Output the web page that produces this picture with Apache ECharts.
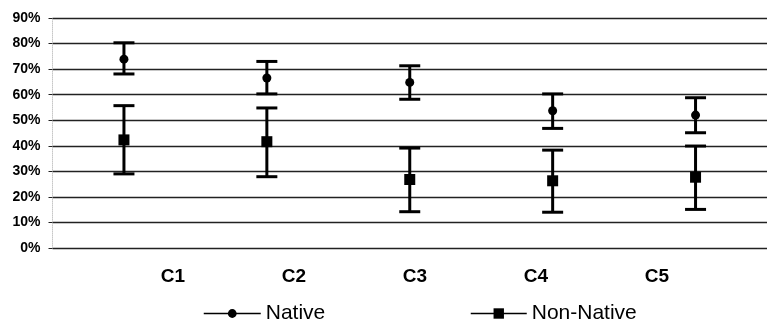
<!DOCTYPE html>
<html>
<head>
<meta charset="utf-8">
<script src="https://cdn.jsdelivr.net/npm/echarts@6/dist/echarts.min.js"></script>
<style>
html,body{margin:0;padding:0;background:#fff;}
#chart{width:767px;height:325px;}
</style>
</head>
<body>
<div id="chart"></div>
<script>
var categories = ['C1', 'C2', 'C3', 'C4', 'C5'];
var nativeMean = [73.9, 66.5, 64.8, 53.7, 52.0];
var nativeLow = [68.1, 60.3, 58.2, 46.8, 45.1];
var nativeHigh = [80.3, 73.0, 71.3, 60.3, 58.8];
var nonNativeMean = [42.3, 41.6, 26.8, 26.3, 27.7];
var nonNativeLow = [29.0, 27.9, 14.2, 14.0, 15.1];
var nonNativeHigh = [55.7, 54.8, 39.1, 38.3, 39.9];
var yTicks = [0, 10, 20, 30, 40, 50, 60, 70, 80, 90];

var FONT = "'Liberation Sans', Arial, Helvetica, sans-serif";

function errorData(low, high) {
  return categories.map(function (c, i) { return [i, low[i], high[i]]; });
}

function renderErr(params, api) {
  var i = api.value(0);
  var lo = api.coord([i, api.value(1)]);
  var hi = api.coord([i, api.value(2)]);
  var x = lo[0];
  var cap = 10.5;
  var st = { stroke: '#000', lineWidth: 3 };
  return {
    type: 'group',
    children: [
      { type: 'line', shape: { x1: x, y1: hi[1], x2: x, y2: lo[1] }, style: st },
      { type: 'line', shape: { x1: x - cap, y1: hi[1], x2: x + cap, y2: hi[1] }, style: st },
      { type: 'line', shape: { x1: x - cap, y1: lo[1], x2: x + cap, y2: lo[1] }, style: st }
    ]
  };
}

var chart = echarts.init(document.getElementById('chart'));
chart.setOption({
  animation: false,
  backgroundColor: '#fff',
  grid: [
    { left: 52.5, top: 18, width: 725, bottom: 77 },
    { left: 112.5, top: 18, width: 605, bottom: 77 }
  ],
  xAxis: [
    { type: 'category', gridIndex: 0, data: categories, boundaryGap: true,
      axisLine: { show: false }, axisTick: { show: false }, axisLabel: { show: false },
      splitLine: { show: false } },
    { type: 'category', gridIndex: 1, data: categories, boundaryGap: true,
      axisLine: { show: false }, axisTick: { show: false },
      axisLabel: { show: true, margin: 19, color: '#000', fontFamily: FONT, fontWeight: 'bold', fontSize: 19 },
      splitLine: { show: false } }
  ],
  yAxis: [
    { type: 'value', gridIndex: 0, min: yTicks[0], max: yTicks[yTicks.length - 1], interval: 10,
      axisLine: { show: true, lineStyle: { color: '#c8c8c8', type: 'dotted', width: 1 } },
      axisTick: { show: true, length: 4, lineStyle: { color: '#222', width: 1 } },
      axisLabel: { margin: 12, color: '#000', fontFamily: FONT, fontWeight: 'bold', fontSize: 14,
        formatter: '{value}%' },
      splitLine: { show: true, lineStyle: { color: '#222', width: 1.3 } } },
    { type: 'value', gridIndex: 1, min: 0, max: 90, show: false, splitLine: { show: false } }
  ],
  legend: [
    { data: ['Native'], left: 203, top: 303, padding: 0, itemWidth: 57, itemHeight: 11,
      textStyle: { fontFamily: FONT, fontSize: 21, color: '#000' },
      lineStyle: { color: '#000', width: 1.5, opacity: 1, type: 'solid' } },
    { data: ['Non-Native'], left: 470, top: 303, padding: 0, itemWidth: 56, itemHeight: 13,
      textStyle: { fontFamily: FONT, fontSize: 21, color: '#000' },
      lineStyle: { color: '#000', width: 1.5, opacity: 1, type: 'solid' } }
  ],
  series: [
    { type: 'custom', name: 'NativeErr', xAxisIndex: 0, yAxisIndex: 0, renderItem: renderErr,
      data: errorData(nativeLow, nativeHigh), z: 3, silent: true },
    { type: 'custom', name: 'NonNativeErr', xAxisIndex: 0, yAxisIndex: 0, renderItem: renderErr,
      data: errorData(nonNativeLow, nonNativeHigh), z: 3, silent: true },
    { type: 'line', name: 'Native', xAxisIndex: 0, yAxisIndex: 0, data: nativeMean,
      symbol: 'circle', symbolSize: 9, showSymbol: true,
      lineStyle: { opacity: 0, color: '#000' }, itemStyle: { color: '#000' }, z: 5 },
    { type: 'line', name: 'Non-Native', xAxisIndex: 0, yAxisIndex: 0, data: nonNativeMean,
      symbol: 'rect', symbolSize: 11, showSymbol: true,
      lineStyle: { opacity: 0, color: '#000' }, itemStyle: { color: '#000' }, z: 5 }
  ]
});
</script>
</body>
</html>
